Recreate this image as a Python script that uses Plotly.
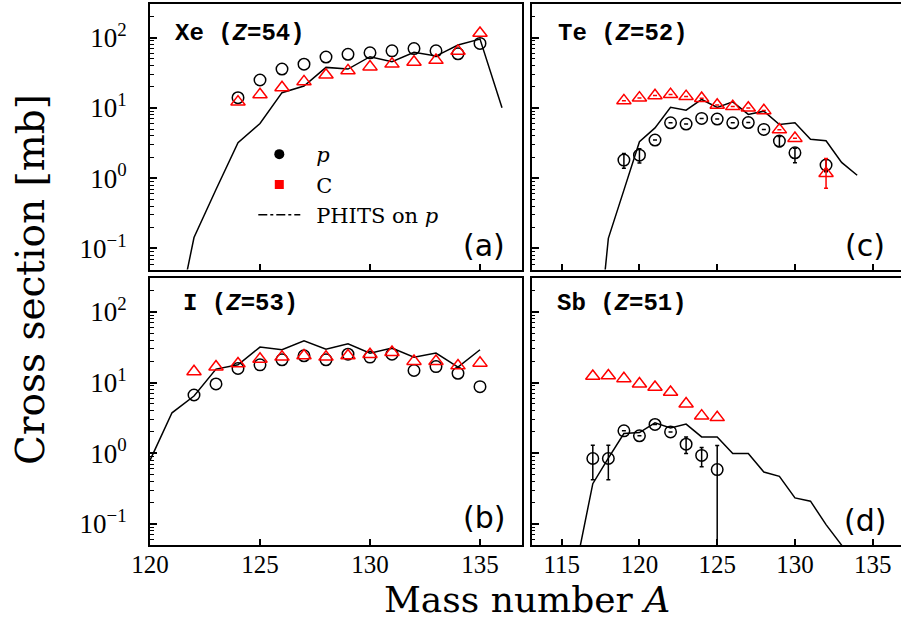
import plotly.graph_objects as go

# ---------------- data ----------------
# (a) Xe (Z=54)
xe_A = [124, 125, 126, 127, 128, 129, 130, 131, 132, 133, 134, 135]
xe_p = [14.0, 25, 35.8, 42, 53, 58, 61, 65, 70, 65, 59, 83]
xe_c = [12.2, 15.5, 19.5, 23.7, 29.5, 34, 38.6, 42.3, 45, 47.8, 64.4, 116]
xe_A_phits = [121, 122, 123, 124, 125, 126, 127, 128, 129, 130, 131, 132, 133, 134, 135, 136]
xe_phits = [0.0043, 0.143, 0.69, 3.2, 6.0, 16.5, 20.5, 37.8, 35.8, 53.7, 45.5, 62, 54.8, 78.7, 95.6, 10.1]

# (c) Te (Z=52)
te_A = [119, 120, 121, 122, 123, 124, 125, 126, 127, 128, 129, 130, 132]
te_p = [1.81, 2.13, 3.49, 6.15, 5.9, 7.1, 6.95, 6.15, 6.2, 4.95, 3.38, 2.3, 1.54]
te_p_errp = [0.44, 0.49, 0, 0, 0, 0, 0, 0, 0, 0, 0.55, 0.36, 0.3]
te_p_errm = [0.43, 0.49, 0, 0, 0, 0, 0, 0, 0, 0, 0.58, 0.64, 0.3]
te_c = [12.7, 13.9, 15.0, 15.6, 14.6, 13.7, 11.0, 10.5, 10.0, 9.2, 4.9, 3.7, 1.17]
te_c_errp = [0, 0, 0, 0, 0, 0, 0, 0, 0, 0, 0, 0, 0.73]
te_c_errm = [0, 0, 0, 0, 0, 0, 0, 0, 0, 0, 0, 0, 0.45]
te_A_phits = [117, 118, 119, 120, 121, 122, 123, 124, 125, 126, 127, 128, 129, 130, 131, 132, 133, 134]
te_phits = [0.00085, 0.139, 0.676, 3.3, 5.2, 10.2, 9.3, 13.2, 10.2, 12.2, 8.1, 9.0, 5.8, 6.15, 3.57, 3.41, 1.68, 1.1]

# (b) I (Z=53)
i_A = [122, 123, 124, 125, 126, 127, 128, 129, 130, 131, 132, 133, 134, 135]
i_p = [6.66, 9.55, 15.8, 17.8, 21, 23.9, 21, 25.2, 22.9, 25.2, 14.8, 16.8, 13.5, 8.75]
i_c = [14.3, 16.7, 18.5, 21.5, 23, 24, 23, 24, 25, 26.8, 20, 20, 17.3, 18.9]
i_A_phits = [120, 121, 122, 123, 124, 125, 126, 127, 128, 129, 130, 131, 132, 133, 134, 135]
i_phits = [0.79, 3.73, 6.45, 15.5, 17.8, 31.8, 29.1, 39, 29.7, 35.4, 26.1, 30.8, 22.9, 26.1, 16.5, 29.1]

# (d) Sb (Z=51)
sb_A = [117, 118, 119, 120, 121, 122, 123, 124, 125]
sb_p = [0.84, 0.84, 2.07, 1.76, 2.55, 2.0, 1.34, 0.93, 0.585]
sb_p_errp = [0.45, 0.45, 0, 0, 0, 0, 0.36, 0.27, 0.7]
sb_p_errm = [0.42, 0.42, 0, 0, 0, 0, 0.35, 0.29, 0.584]
sb_c = [12.3, 12.5, 11.4, 9.6, 8.6, 7.3, 5.0, 3.37, 3.2]
sb_A_phits = [116, 117, 118, 119, 120, 121, 122, 123, 124, 125, 126, 127, 128, 129, 130, 131, 132, 133, 134]
sb_phits = [0.03, 0.37, 0.85, 1.9, 1.96, 2.69, 2.28, 2.58, 1.7, 1.7, 0.99, 0.99, 0.54, 0.47, 0.233, 0.209, 0.0975, 0.05, 0.02]

panel_titles = ["<b>Xe (<i>Z</i>=54)</b>", "<b>Te (<i>Z</i>=52)</b>", "<b>I (<i>Z</i>=53)</b>", "<b>Sb (<i>Z</i>=51)</b>"]
panel_letters = ["(a)", "(c)", "(b)", "(d)"]
x_ticks_left = [120, 125, 130, 135]
x_ticks_right = [115, 120, 125, 130, 135]
y_major = [0.1, 1, 10, 100]
y_major_text = ["10<sup>\u22121</sup>", "10<sup>0</sup>", "10<sup>1</sup>", "10<sup>2</sup>"]
y_minor = [m * 10 ** e for e in range(-2, 3) for m in range(2, 10)]
legend_names = ["\u00a0\u2009<i>p</i>", "\u00a0\u2009C", "\u00a0\u2009PHITS on <i>p</i>"]

# ---------------- figure ----------------
fig = go.Figure()

RED = "#ff0000"
panels = [
    ("x", "y", xe_A, xe_p, None, None, xe_c, None, None, xe_A_phits, xe_phits),
    ("x2", "y2", te_A, te_p, te_p_errp, te_p_errm, te_c, te_c_errp, te_c_errm, te_A_phits, te_phits),
    ("x3", "y3", i_A, i_p, None, None, i_c, None, None, i_A_phits, i_phits),
    ("x4", "y4", sb_A, sb_p, sb_p_errp, sb_p_errm, sb_c, None, None, sb_A_phits, sb_phits),
]

for xa, ya, A, p, pep, pem, c, cep, cem, Aph, ph in panels:
    fig.add_trace(go.Scatter(x=Aph, y=ph, xaxis=xa, yaxis=ya, mode="lines",
                             line=dict(color="black", width=1.5), showlegend=False))
    err_p = None
    if pep is not None:
        err_p = dict(type="data", array=pep, arrayminus=pem, color="black", thickness=1.5, width=2)
    fig.add_trace(go.Scatter(x=A, y=p, xaxis=xa, yaxis=ya, mode="markers",
                             marker=dict(symbol="circle", size=11.5, color="rgba(0,0,0,0)",
                                         line=dict(color="black", width=1.5)),
                             error_y=err_p, showlegend=False))
    err_c = None
    if cep is not None:
        err_c = dict(type="data", array=cep, arrayminus=cem, color=RED, thickness=1.5, width=2)
    fig.add_trace(go.Scatter(x=A, y=c, xaxis=xa, yaxis=ya, mode="markers",
                             marker=dict(symbol="triangle-up-open", size=12.5, color=RED,
                                         line=dict(color=RED, width=1.5)),
                             error_y=err_c, showlegend=False))

# legend entries
fig.add_trace(go.Scatter(x=[None], y=[None], mode="markers", name=legend_names[0],
                         marker=dict(symbol="circle", size=10, color="black")))
fig.add_trace(go.Scatter(x=[None], y=[None], mode="markers", name=legend_names[1],
                         marker=dict(symbol="square", size=9, color=RED)))
fig.add_trace(go.Scatter(x=[None], y=[None], mode="lines", name=legend_names[2],
                         line=dict(color="black", width=1.5, dash="dashdot")))

W, H = 901, 623
ML, MR, MT, MB = 150, 0, 4, 78
PW = W - ML - MR
PH = H - MT - MB

def px_x(v):
    return (v - ML) / PW

def px_y(v):
    return (H - MB - v) / PH

xdom_left = [0, px_x(522)]
xdom_right = [px_x(531.7), 1]
ydom_top = [px_y(269.5), 1]
ydom_bot = [0, px_y(278)]

tickfont = dict(family="Liberation Serif", size=25, color="black")
ytickfont = dict(family="Liberation Serif", size=27, color="black")

def xaxis(domain, anchor, rng, ticks, labels):
    return dict(domain=domain, anchor=anchor, range=rng, showline=True, linecolor="black",
                linewidth=2, mirror=True, ticks="inside", ticklen=6, tickwidth=1.5,
                tickcolor="black", tickvals=ticks, showticklabels=labels, showgrid=False,
                zeroline=False, tickfont=tickfont, ticklabelstandoff=-4)

def yaxis(domain, anchor, labels, mirror):
    return dict(domain=domain, anchor=anchor, type="log", range=[-1.3, 2.48], showline=True,
                linecolor="black", linewidth=2, mirror=mirror, ticks="inside", ticklen=7,
                tickwidth=1.5, tickcolor="black", tickvals=y_major, ticktext=y_major_text,
                showticklabels=labels, showgrid=False, zeroline=False, tickfont=ytickfont,
                ticklabelstandoff=16,
                minor=dict(tickvals=y_minor, ticks="inside", ticklen=3.5, tickwidth=1,
                           tickcolor="black", showgrid=False))

x_left_rng = [120, 120 + 372 / 22.0]
x_right_rng = [115 - 30 / 15.55, 115 - 30 / 15.55 + 369.3 / 15.55]

fig.update_layout(
    width=W, height=H,
    margin=dict(l=ML, r=MR, t=MT, b=MB),
    paper_bgcolor="white", plot_bgcolor="white",
    xaxis=xaxis(xdom_left, "y", x_left_rng, x_ticks_left, False),
    yaxis=yaxis(ydom_top, "x", True, True),
    xaxis2=xaxis(xdom_right, "y2", x_right_rng, x_ticks_right, False),
    yaxis2=yaxis(ydom_top, "x2", False, False),
    xaxis3=xaxis(xdom_left, "y3", x_left_rng, x_ticks_left, True),
    yaxis3=yaxis(ydom_bot, "x3", True, True),
    xaxis4=xaxis(xdom_right, "y4", x_right_rng, x_ticks_right, True),
    yaxis4=yaxis(ydom_bot, "x4", False, False),
    legend=dict(x=px_x(253.3), y=px_y(134), xanchor="left", yanchor="top",
                bgcolor="rgba(0,0,0,0)", borderwidth=0, itemwidth=42, tracegroupgap=0,
                font=dict(family="DejaVu Serif", size=21, color="black")),
)

title_font = dict(family="Liberation Mono", size=24, color="black")
title_pos = [("x domain", "y domain", 23 / 372, 1 - 29 / 265.5),
             ("x2 domain", "y2 domain", 24.3 / 369.3, 1 - 29 / 265.5),
             ("x3 domain", "y3 domain", 31 / 372, 1 - 25 / 267),
             ("x4 domain", "y4 domain", 23.3 / 369.3, 1 - 25 / 267)]
for (xr, yr, xx, yy), t in zip(title_pos, panel_titles):
    fig.add_annotation(text=t, xref=xr, yref=yr, x=xx, y=yy, xanchor="left", yanchor="middle",
                       showarrow=False, font=title_font)

letter_pos = [("x domain", "y domain", 357 / 372, 24.5 / 265.5),
              ("x2 domain", "y2 domain", 355.3 / 369.3, 24.5 / 265.5),
              ("x3 domain", "y3 domain", 357 / 372, 28 / 267),
              ("x4 domain", "y4 domain", 356.3 / 369.3, 25 / 267)]
for (xr, yr, xx, yy), t in zip(letter_pos, panel_letters):
    fig.add_annotation(text=t, xref=xr, yref=yr, x=xx, y=yy, xanchor="right", yanchor="middle",
                       showarrow=False, font=dict(family="DejaVu Sans", size=30, color="black"))

fig.add_annotation(text="Mass number <i>A</i>", xref="paper", yref="paper",
                   x=px_x(526.5), y=px_y(578), xanchor="center", yanchor="top",
                   showarrow=False, borderpad=0,
                   font=dict(family="DejaVu Serif", size=36, color="black"))
fig.add_annotation(text="Cross section [mb]", xref="paper", yref="paper",
                   x=px_x(30), y=px_y(280), xanchor="center", yanchor="middle",
                   textangle=-90, showarrow=False,
                   font=dict(family="DejaVu Serif", size=39, color="black"))

fig.write_html("out.html", config={"displayModeBar": False},
               post_script="document.body.style.margin='0';document.body.style.overflow='hidden';")
